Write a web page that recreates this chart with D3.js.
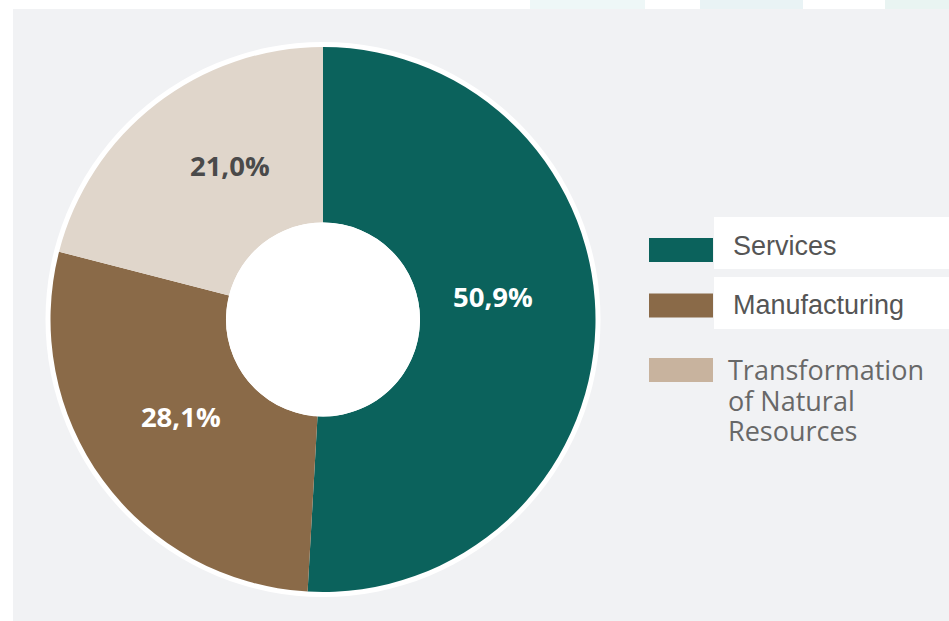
<!DOCTYPE html>
<html>
<head>
<meta charset="utf-8">
<script src="https://cdn.jsdelivr.net/npm/d3@7"></script>
<style>
  body { margin: 0; background: #ffffff; }
  svg { display: block; }
</style>
</head>
<body>
<svg id="chart"></svg>
<script>
// DATA
var categories = ["Services", "Manufacturing", "Transformation of Natural Resources"];
var shares = [50.9, 28.1, 21.0];
var shareLabels = ["50,9%", "28,1%", "21,0%"];
var sliceColors = ["#0b625c", "#8a6a48", "#e0d6cb"];
var swatchColors = ["#0b625c", "#8a6a48", "#c8b39e"];
var labelColors = ["#ffffff", "#ffffff", "#4a4a4a"];

// MAIN
var width = 949, height = 621;
var svg = d3.select("#chart").attr("width", width).attr("height", height);

// faint strips along the top edge
var strips = [[530, 115, "#eef7f7"], [700, 103, "#e9f3f5"], [885, 64, "#e9f4f2"]];
svg.selectAll("rect.strip").data(strips).enter().append("rect")
    .attr("class", "strip")
    .attr("x", function (d) { return d[0]; })
    .attr("y", 0)
    .attr("width", function (d) { return d[1]; })
    .attr("height", 10)
    .attr("fill", function (d) { return d[2]; });

// gray panel
svg.append("rect")
    .attr("x", 13).attr("y", 9)
    .attr("width", width - 13).attr("height", height - 9)
    .attr("fill", "#f1f2f4");

var cx = 323, cy = 319.5;
var outerR = 272.5, innerR = 97;

var pie = d3.pie().sort(null).value(function (d) { return d; });
var arcs = pie(shares);

var arc = d3.arc().innerRadius(innerR).outerRadius(outerR);
var labelArc = d3.arc().innerRadius(170).outerRadius(170);

var g = svg.append("g").attr("transform", "translate(" + cx + "," + cy + ")");

// white halo around the donut
g.append("circle")
    .attr("r", outerR + 5)
    .attr("fill", "#ffffff");

g.selectAll("path.slice")
    .data(arcs).enter().append("path")
    .attr("class", "slice")
    .attr("d", arc)
    .attr("fill", function (d, i) { return sliceColors[i]; });

g.append("circle")
    .attr("r", innerR)
    .attr("fill", "#ffffff");

// small nudges so the labels sit like the original
var nudge = [[0, -27], [-5, -3], [11, -19]];

g.selectAll("text.value")
    .data(arcs).enter().append("text")
    .attr("class", "value")
    .attr("x", function (d, i) { return labelArc.centroid(d)[0] + nudge[i][0]; })
    .attr("y", function (d, i) { return labelArc.centroid(d)[1] + nudge[i][1]; })
    .attr("dy", "0.36em")
    .attr("text-anchor", "middle")
    .attr("font-family", "'Open Sans', sans-serif")
    .attr("font-weight", "bold")
    .attr("font-size", "27.5px")
    .attr("fill", function (d, i) { return labelColors[i]; })
    .text(function (d, i) { return shareLabels[i]; });

// LEGEND
var legendY = [250, 305.5, 370];

// white boxes behind the first two entries
var boxes = [[217, 52], [277, 52]];
svg.selectAll("rect.box").data(boxes).enter().append("rect")
    .attr("class", "box")
    .attr("x", 714).attr("y", function (d) { return d[0]; })
    .attr("width", width - 714).attr("height", function (d) { return d[1]; })
    .attr("fill", "#ffffff");

svg.selectAll("rect.swatch").data(categories).enter().append("rect")
    .attr("class", "swatch")
    .attr("x", 649)
    .attr("y", function (d, i) { return legendY[i] - 12; })
    .attr("width", 64).attr("height", 24)
    .attr("fill", function (d, i) { return swatchColors[i]; });

svg.append("text")
    .attr("x", 733).attr("y", 255)
    .attr("font-family", "'Liberation Sans', Arial, sans-serif")
    .attr("font-size", "27px")
    .attr("fill", "#555555")
    .text(categories[0]);

svg.append("text")
    .attr("x", 733).attr("y", 314)
    .attr("font-family", "'Liberation Sans', Arial, sans-serif")
    .attr("font-size", "27px")
    .attr("fill", "#555555")
    .text(categories[1]);

var wrapped = ["Transformation", "of Natural", "Resources"];
svg.append("text")
    .attr("font-family", "'Open Sans', sans-serif")
    .attr("font-size", "27px")
    .attr("fill", "#686868")
    .selectAll("tspan").data(wrapped).enter().append("tspan")
    .attr("x", 728)
    .attr("y", function (d, i) { return 380 + i * 30.5; })
    .text(function (d) { return d; });
</script>
</body>
</html>
